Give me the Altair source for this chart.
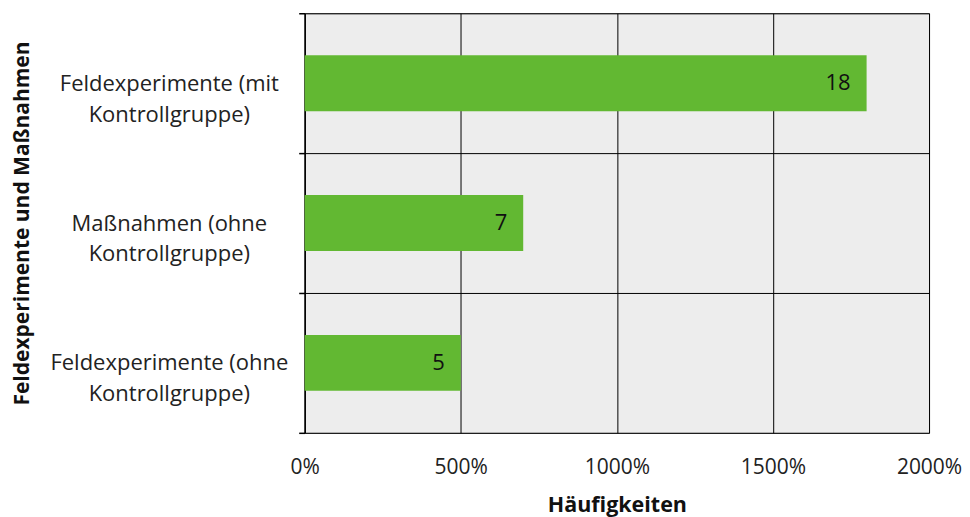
import altair as alt
import pandas as pd

categories = [
    "Feldexperimente (mit\nKontrollgruppe)",
    "Maßnahmen (ohne\nKontrollgruppe)",
    "Feldexperimente (ohne\nKontrollgruppe)",
]
values = [18, 7, 5]
x_ticks = [0, 5, 10, 15, 20]

df = pd.DataFrame({"Kategorie": categories, "Wert": values})

FONT = "Open Sans"
GREEN = "#62b832"
HATCH = "#ededed"

y = alt.Y(
    "Kategorie:N",
    sort=categories,
    title="Feldexperimente und Maßnahmen",
    scale=alt.Scale(paddingInner=0, paddingOuter=0),
    axis=alt.Axis(
        tickBand="extent", grid=True, gridColor="#000", gridWidth=1,
        domainColor="#000", domainWidth=1.5, tickColor="#000", tickSize=6, tickWidth=1.5,
        labelAlign="center", labelBaseline="middle", labelPadding=130,
        labelExpr="split(datum.label, '\\n')", labelLineHeight=31, labelLimit=400,
        labelFontSize=22, labelColor="#222", labelFont=FONT,
        titleFont=FONT, titleFontSize=21, titleFontWeight="bold",
        titlePadding=72, titleColor="#111",
    ),
)

x = alt.X(
    "Wert:Q",
    title="Häufigkeiten",
    scale=alt.Scale(domain=[0, 20], nice=False),
    axis=alt.Axis(
        values=x_ticks, format=".0%", grid=True, gridColor="#000", gridWidth=1,
        domain=False, ticks=False, labelFlush=False, labelPadding=24,
        labelFontSize=21, labelColor="#222", labelFont=FONT,
        titleFont=FONT, titleFontSize=21.5, titleFontWeight="bold",
        titlePadding=17, titleColor="#111",
    ),
)

bars = alt.Chart(df).mark_bar(color=GREEN, size=56).encode(x=x, y=y)
labels = alt.Chart(df).mark_text(
    align="right", baseline="middle", dx=-16, fontSize=22, font=FONT, color="#111"
).encode(x=alt.X("Wert:Q"), y=alt.Y("Kategorie:N", sort=categories), text="Wert:Q")

chart = (
    alt.layer(bars, labels, view=alt.ViewBackground(fill=HATCH, stroke="#888"))
    .properties(width=625, height=420, padding={"left": 4, "top": -6, "right": 0, "bottom": 0})
    .configure_view(stroke="#888", fill=HATCH)
    .configure(background="white")
)

chart.save("out.html", embed_options={"renderer": "svg", "actions": False})
